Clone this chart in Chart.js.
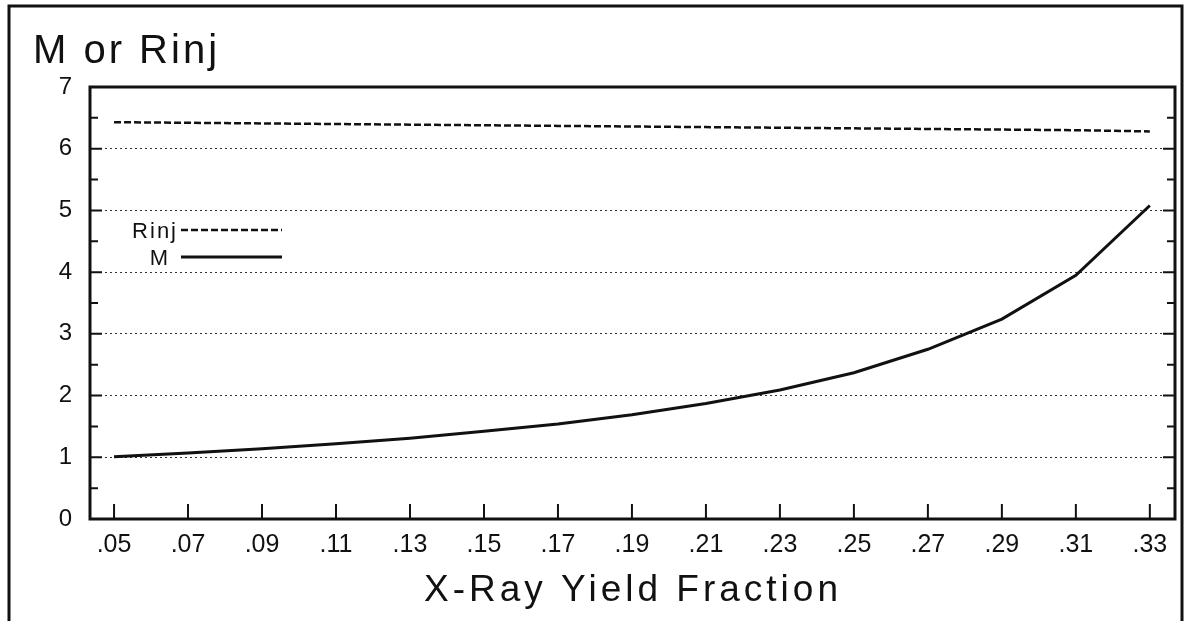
<!DOCTYPE html>
<html>
<head>
<meta charset="utf-8">
<script src="https://cdn.jsdelivr.net/npm/chart.js@4/dist/chart.umd.min.js"></script>
<style>
  html, body { margin: 0; padding: 0; background: #fff; }
  canvas { display: block; }
</style>
</head>
<body>
<canvas id="yieldChart" width="1184" height="621"></canvas>
<script>
// values
const xValues = [0.05, 0.07, 0.09, 0.11, 0.13, 0.15, 0.17, 0.19, 0.21, 0.23, 0.25, 0.27, 0.29, 0.31, 0.33];
const mValues = [1.01, 1.07, 1.14, 1.22, 1.31, 1.42, 1.54, 1.69, 1.87, 2.09, 2.37, 2.75, 3.24, 3.95, 5.08];
const rinjValues = [6.43, 6.42, 6.41, 6.40, 6.39, 6.38, 6.37, 6.36, 6.35, 6.34, 6.33, 6.32, 6.31, 6.30, 6.28];
const xTickValues = [0.05, 0.07, 0.09, 0.11, 0.13, 0.15, 0.17, 0.19, 0.21, 0.23, 0.25, 0.27, 0.29, 0.31, 0.33];
const yTickLabels = [0, 1, 2, 3, 4, 5, 6, 7];

const FONT = "'Liberation Sans', Arial, sans-serif";
const INK = "#111";

const chartElement = document.getElementById("yieldChart");

function toPoints(xs, ys) {
  return xs.map((x, i) => ({ x, y: ys[i] }));
}

// frame, inward ticks, titles and the little legend
const decorations = {
  id: "decorations",
  afterDraw(chart) {
    const { ctx, chartArea: a, scales } = chart;
    const xs = scales.x;
    const ys = scales.y;
    ctx.save();
    ctx.strokeStyle = INK;
    ctx.lineCap = "butt";

    // outer frame
    ctx.lineWidth = 3;
    ctx.beginPath();
    ctx.moveTo(9, 621);
    ctx.lineTo(9, 6);
    ctx.lineTo(1182, 6);
    ctx.lineTo(1182, 621);
    ctx.stroke();

    // plot box
    ctx.lineWidth = 3;
    ctx.strokeRect(a.left, a.top, a.right - a.left, a.bottom - a.top);

    // y ticks (both sides), half steps are short
    ctx.lineWidth = 2;
    for (let v = 0.5; v < 7; v += 0.5) {
      const py = ys.getPixelForValue(v);
      const len = Number.isInteger(v) ? 12 : 8;
      ctx.beginPath();
      ctx.moveTo(a.left, py);
      ctx.lineTo(a.left + len, py);
      ctx.moveTo(a.right, py);
      ctx.lineTo(a.right - len, py);
      ctx.stroke();
    }

    // x ticks pointing up from the bottom axis
    xTickValues.forEach((v) => {
      const px = xs.getPixelForValue(v);
      ctx.beginPath();
      ctx.moveTo(px, a.bottom);
      ctx.lineTo(px, a.bottom - 15);
      ctx.stroke();
    });

    ctx.fillStyle = INK;
    ctx.textBaseline = "alphabetic";

    // y title
    ctx.font = `40px ${FONT}`;
    ctx.letterSpacing = "3px";
    ctx.textAlign = "left";
    ctx.fillText("M or Rinj", 33, 63);

    // x title
    ctx.font = `37px ${FONT}`;
    ctx.letterSpacing = "4px";
    ctx.textAlign = "center";
    ctx.fillText("X-Ray Yield Fraction", 633, 601);

    // legend
    ctx.letterSpacing = "2px";
    ctx.font = `22px ${FONT}`;
    ctx.textAlign = "right";
    const entries = [
      { text: "Rinj", ds: chart.data.datasets[0], y: 230, tx: 178 },
      { text: "M", ds: chart.data.datasets[1], y: 257, tx: 170 },
    ];
    entries.forEach((e) => {
      ctx.fillText(e.text, e.tx, e.y + 8);
      ctx.lineWidth = e.ds.borderWidth;
      ctx.setLineDash(e.ds.borderDash || []);
      ctx.beginPath();
      ctx.moveTo(181, e.y);
      ctx.lineTo(282, e.y);
      ctx.stroke();
      ctx.setLineDash([]);
    });
    ctx.restore();
  },
};

new Chart(chartElement.getContext("2d"), {
  type: "line",
  data: {
    datasets: [
      {
        label: "Rinj",
        data: toPoints(xValues, rinjValues),
        borderColor: INK,
        borderWidth: 2.5,
        borderDash: [7, 3],
        pointRadius: 0,
        tension: 0,
      },
      {
        label: "M",
        data: toPoints(xValues, mValues),
        borderColor: INK,
        borderWidth: 3,
        pointRadius: 0,
        tension: 0,
      },
    ],
  },
  options: {
    responsive: false,
    animation: false,
    events: [],
    layout: { padding: { left: 0, top: 87, right: 9, bottom: 0 } },
    plugins: {
      legend: { display: false },
      tooltip: { enabled: false },
      title: { display: false },
    },
    scales: {
      x: {
        type: "linear",
        min: 0.0435,
        max: 0.3368,
        afterBuildTicks: (scale) => {
          scale.ticks = xTickValues.map((value) => ({ value }));
        },
        afterFit: (scale) => {
          scale.height = 102;
        },
        grid: { display: false, drawTicks: false },
        border: { display: false },
        ticks: {
          autoSkip: false,
          maxRotation: 0,
          padding: 11,
          color: INK,
          font: { family: FONT, size: 25 },
          callback: (v) => v.toFixed(2).replace(/^0/, ""),
        },
      },
      y: {
        min: 0,
        max: 7,
        afterFit: (scale) => {
          scale.width = 90;
        },
        grid: {
          drawTicks: false,
          lineWidth: 1,
          color: (c) => {
            const v = c.tick && c.tick.value;
            return Number.isInteger(v) && v > 0 && v < 7 ? "#333" : "rgba(0,0,0,0)";
          },
        },
        border: { display: false, dash: [2, 3] },
        ticks: {
          stepSize: 0.5,
          padding: 18,
          color: INK,
          font: { family: FONT, size: 24 },
          callback: (v) => (yTickLabels.includes(v) ? String(v) : ""),
        },
      },
    },
  },
  plugins: [decorations],
});
</script>
</body>
</html>
